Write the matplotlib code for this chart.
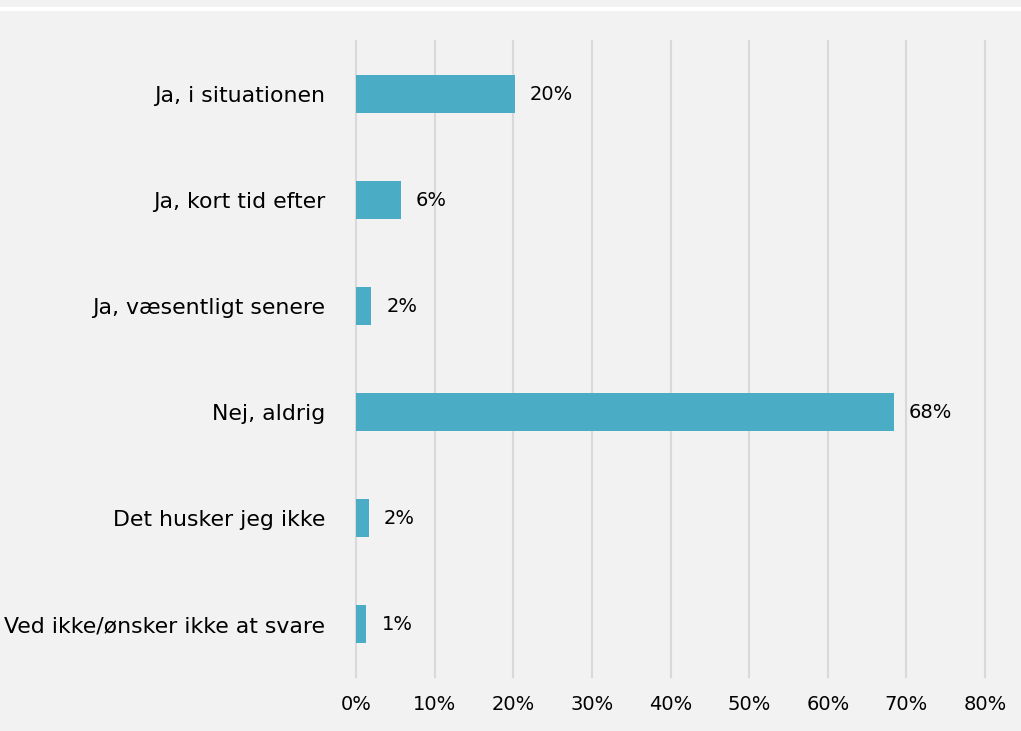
import matplotlib.pyplot as plt
from matplotlib.patches import Rectangle

categories = [
    'Ja, i situationen',
    'Ja, kort tid efter',
    'Ja, væsentligt senere',
    'Nej, aldrig',
    'Det husker jeg ikke',
    'Ved ikke/ønsker ikke at svare',
]
shares = [20.2, 5.7, 1.9, 68.4, 1.6, 1.3]
xticks = [0, 10, 20, 30, 40, 50, 60, 70, 80]

bg = '#f2f2f2'
bar_color = '#4bacc6'
grid_color = '#d9d9d9'

plt.rcParams['font.family'] = ['DejaVu Sans']

fig = plt.figure(figsize=(10.21, 7.31), dpi=100, facecolor=bg)
ax = fig.add_axes([356 / 1021, 1 - 677 / 731, (985 - 356) / 1021, (677 - 41) / 731])
ax.set_facecolor(bg)

# thin white band near the top edge
fig.patches.append(Rectangle((0, 1 - 11 / 731), 1, 4 / 731, transform=fig.transFigure,
                             facecolor='white', edgecolor='none', zorder=0))

ypos = list(range(len(categories)))
ax.barh(ypos, shares, height=0.35, color=bar_color, zorder=3)

for y, v in zip(ypos, shares):
    ax.annotate(f'{v:.0f}%', (v, y), xytext=(11, 0), textcoords='offset points',
                ha='left', va='center', fontsize=14, color='black')

ax.set_ylim(len(categories) - 0.5, -0.5)
ax.set_yticks(ypos)
ax.set_yticklabels(categories, fontsize=15.8)
ax.set_xlim(0, 80)
ax.set_xticks(xticks)
ax.set_xticklabels([f'{t}%' for t in xticks], fontsize=14)

ax.grid(axis='x', color=grid_color, linewidth=1.5, zorder=0)
for gl in ax.xaxis.get_gridlines():
    gl.set_clip_on(False)
ax.tick_params(axis='both', length=0)
ax.tick_params(axis='y', pad=22)
ax.tick_params(axis='x', pad=13)
for s in ax.spines.values():
    s.set_visible(False)

fig.savefig('out.png', dpi=100, facecolor=bg)
